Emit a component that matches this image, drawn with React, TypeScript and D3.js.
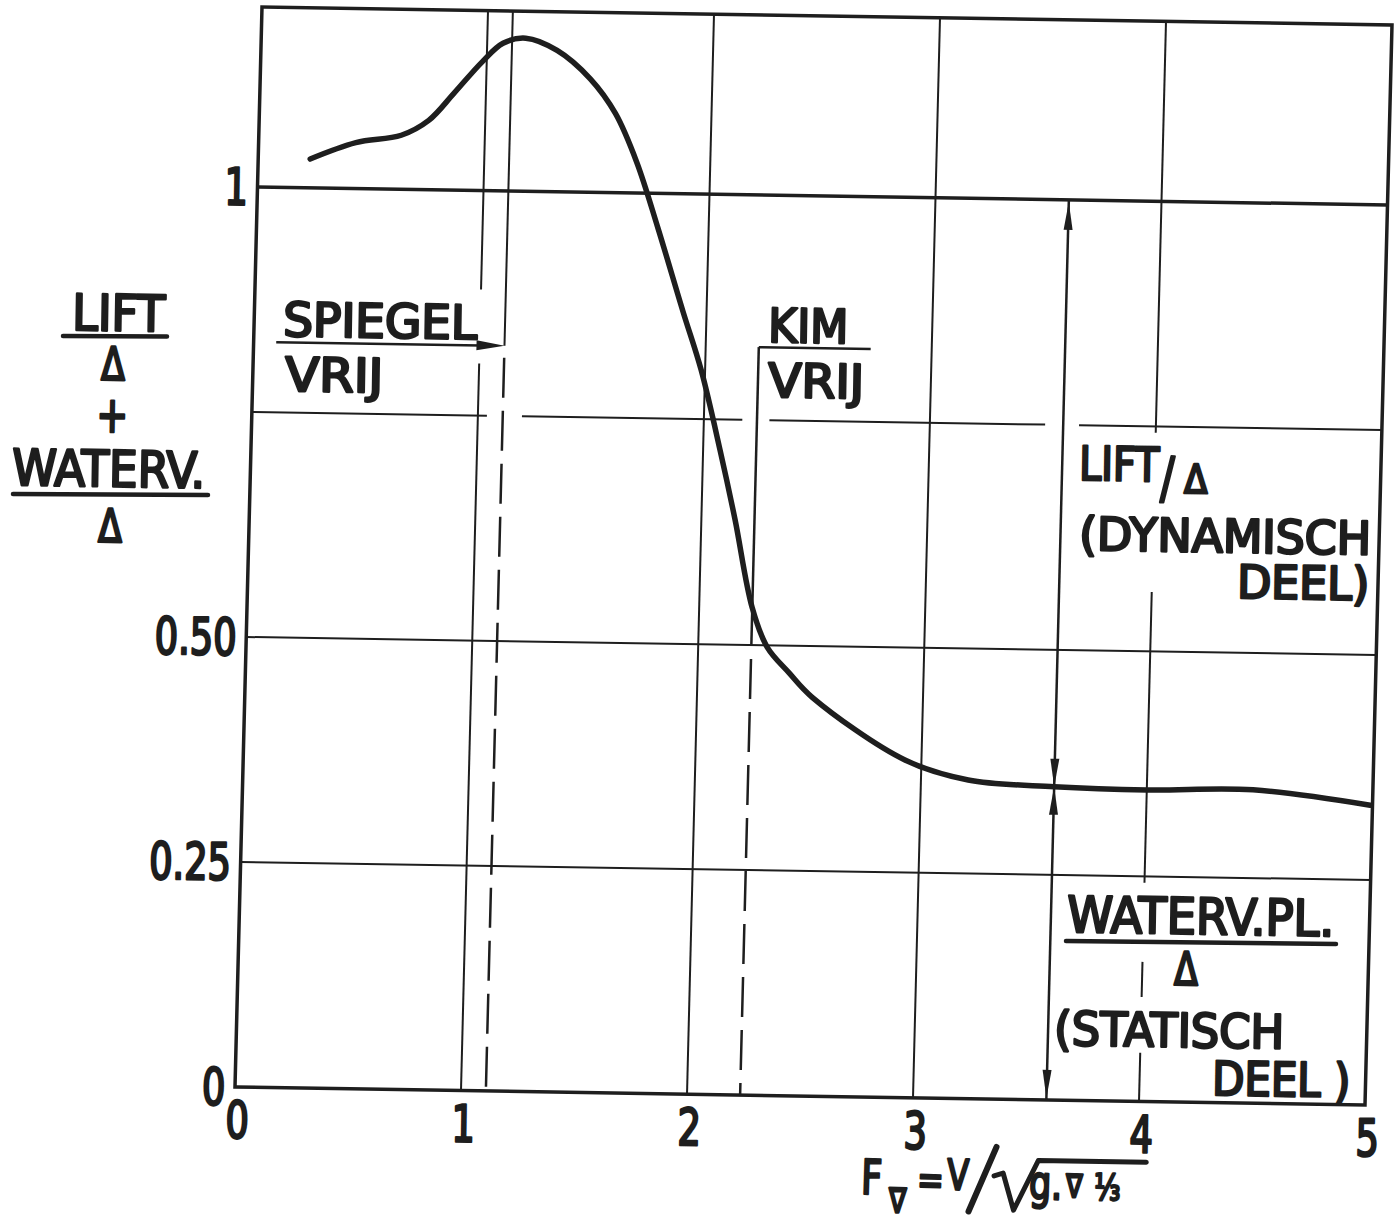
import React from 'react';
import * as d3 from 'd3';

// Lift/displacement + waterplane/displacement versus volumetric Froude number
const froude = [0.23, 0.43, 0.63, 0.75, 0.86, 0.98, 1.07, 1.17, 1.31, 1.46, 1.575, 1.675, 1.775, 1.896, 1.982, 2.075, 2.149, 2.234, 2.305, 2.404, 2.51, 2.927, 3.209, 3.59, 4.0, 4.47, 4.99];
const liftRatio = [1.032, 1.051, 1.060, 1.077, 1.108, 1.143, 1.164, 1.170, 1.157, 1.126, 1.088, 1.034, 0.962, 0.869, 0.805, 0.716, 0.639, 0.542, 0.498, 0.470, 0.443, 0.375, 0.354, 0.348, 0.346, 0.348, 0.333];

const xTicks = [0, 1, 2, 3, 4, 5];
const xTickLabels = ['0', '1', '2', '3', '4', '5'];
const yTicks = [0, 0.25, 0.5, 1];
const yTickLabels = ['0', '0.25', '0.50', '1'];

// transom clears water / chine clears water / split of lift components
const spiegelVrij = 1.11;
const kimVrij = 2.235;
const splitAt = 3.59;
const spiegelArrowY = 0.828;
const kimBarY = 0.831;
const kimBarEnd = 2.73;

// grid lines with the pieces that are left open for annotations
const vGrid: { x: number; pieces: [number, number][] }[] = [
  { x: 1, pieces: [[0, 0.808], [0.89, 1.2]] },
  { x: 2, pieces: [[0, 1.2]] },
  { x: 3, pieces: [[0, 1.2]] },
  { x: 4, pieces: [[0, 0.054], [0.116, 0.155], [0.243, 0.566], [0.743, 1.2]] },
];
const hGrid: { y: number; pieces: [number, number][]; w: number }[] = [
  { y: 0.25, pieces: [[0, 5]], w: 2 },
  { y: 0.5, pieces: [[0, 5]], w: 2 },
  { y: 0.75, pieces: [[0, 1.04], [1.195, 2.17], [2.29, 3.51], [3.66, 5]], w: 2 },
  { y: 1, pieces: [[0, 5]], w: 3.5 },
];

const W = 1130;
const H = 1080;
const M = { a: 1, b: 0.0159, c: -0.025, d: 1, e: 262, f: 7 };

const xs = d3.scaleLinear().domain([0, 5]).range([0, W]);
const ys = d3.scaleLinear().domain([0, 1.2]).range([H, 0]);

const proj = (x: number, y: number): [number, number] => {
  const u = xs(x);
  const w = ys(y);
  return [M.e + M.a * u + M.c * w, M.f + M.b * u + M.d * w];
};

const INK = '#1e1e1e';
const FONT = "'DejaVu Sans Condensed', 'DejaVu Sans', sans-serif";
const TILT = 0.9;

type LabelProps = {
  x: number;
  y: number;
  size?: number;
  len?: number;
  sx?: number;
  anchor?: 'start' | 'middle' | 'end';
  children: React.ReactNode;
};

const Label = ({ x, y, size = 47, len, sx = 0.84, anchor = 'start', children }: LabelProps) => (
  <text
    x={x}
    y={y}
    fontSize={size}
    fontFamily={FONT}
    fontStretch="condensed"
    fill={INK}
    stroke={INK}
    strokeWidth={2.5}
    strokeLinejoin="round"
    textAnchor={anchor}
    textLength={len}
    lengthAdjust={len ? 'spacingAndGlyphs' : undefined}
    transform={
      len
        ? `rotate(${TILT} ${x} ${y})`
        : `rotate(${TILT} ${x} ${y}) translate(${x} ${y}) scale(${sx} 1) translate(${-x} ${-y})`
    }
  >
    {children}
  </text>
);

const arrowHead = (u: number, w: number, dir: 1 | -1, len = 28, half = 4.5) =>
  `M${u},${w}L${u - half},${w + dir * len}L${u + half},${w + dir * len}Z`;

export default function App() {
  const line = d3
    .line<[number, number]>()
    .x((d) => xs(d[0]))
    .y((d) => ys(d[1]))
    .curve(d3.curveCatmullRom.alpha(0.5));
  const curveData = froude.map((f, i) => [f, liftRatio[i]] as [number, number]);
  const splitValue = liftRatio[froude.indexOf(splitAt)];

  return (
    <svg
      width={1397}
      height={1223}
      style={{ position: 'absolute', left: 0, top: 0, background: '#fff' }}
    >
      <rect width={1397} height={1223} fill="#fff" />
      <g transform={`matrix(${M.a},${M.b},${M.c},${M.d},${M.e},${M.f})`} fill="none" stroke={INK}>
        {/* vertical grid */}
        {vGrid.map((g) =>
          g.pieces.map(([a, b], i) => (
            <line key={`v${g.x}-${i}`} x1={xs(g.x)} x2={xs(g.x)} y1={ys(a)} y2={ys(b)} strokeWidth={2} />
          ))
        )}
        {/* horizontal grid */}
        {hGrid.map((g) =>
          g.pieces.map(([a, b], i) => (
            <line key={`h${g.y}-${i}`} x1={xs(a)} x2={xs(b)} y1={ys(g.y)} y2={ys(g.y)} strokeWidth={g.w} />
          ))
        )}
        {/* frame */}
        <rect x={0} y={0} width={W} height={H} strokeWidth={3.5} />

        {/* transom clear: solid then dashed */}
        <line x1={xs(spiegelVrij)} x2={xs(spiegelVrij)} y1={ys(1.2)} y2={ys(spiegelArrowY)} strokeWidth={2} />
        <line
          x1={xs(spiegelVrij)}
          x2={xs(spiegelVrij)}
          y1={ys(spiegelArrowY) + 12}
          y2={ys(0)}
          strokeWidth={2.5}
          strokeDasharray="40 13"
        />
        <line x1={xs(0.1)} x2={xs(spiegelVrij) - 24} y1={ys(spiegelArrowY)} y2={ys(spiegelArrowY)} strokeWidth={2.5} />
        <path d={`M${xs(spiegelVrij)},${ys(spiegelArrowY)}l-28,-5l0,10Z`} fill={INK} stroke="none" />

        {/* chine clear: bar, solid then dashed */}
        <line x1={xs(kimVrij)} x2={xs(kimBarEnd)} y1={ys(kimBarY)} y2={ys(kimBarY)} strokeWidth={2.5} />
        <line x1={xs(kimVrij)} x2={xs(kimVrij)} y1={ys(kimBarY)} y2={ys(0.5)} strokeWidth={2.5} />
        <line
          x1={xs(kimVrij)}
          x2={xs(kimVrij)}
          y1={ys(0.5) + 14}
          y2={ys(0)}
          strokeWidth={2.5}
          strokeDasharray="40 13"
        />

        {/* dimension line splitting dynamic and static parts */}
        <line x1={xs(splitAt)} x2={xs(splitAt)} y1={ys(1)} y2={ys(0)} strokeWidth={2.5} />
        <g fill={INK} stroke="none">
          <path d={arrowHead(xs(splitAt), ys(1) + 2, 1)} />
          <path d={arrowHead(xs(splitAt), ys(splitValue), -1)} />
          <path d={arrowHead(xs(splitAt), ys(splitValue), 1)} />
          <path d={arrowHead(xs(splitAt), ys(0) - 2, -1)} />
        </g>

        {/* main curve */}
        <path d={line(curveData) || ''} strokeWidth={5.5} strokeLinecap="round" strokeLinejoin="round" />
      </g>

      {/* tick labels */}
      {yTicks.map((v, i) => {
        const [px, py] = proj(0, v);
        return (
          <Label key={`yt${v}`} x={px - 10} y={py + 18} size={51} sx={0.8} anchor="end">
            {yTickLabels[i]}
          </Label>
        );
      })}
      {xTicks.map((v, i) => {
        const [px, py] = proj(v, 0);
        return (
          <Label key={`xt${v}`} x={px + 2} y={py + 51} size={51} sx={0.8} anchor="middle">
            {xTickLabels[i]}
          </Label>
        );
      })}

      {/* y axis title */}
      <Label x={72} y={330} size={50} len={93}>LIFT</Label>
      <line x1={63} x2={167} y1={336} y2={336.5} stroke={INK} strokeWidth={4.5} strokeLinecap="round" />
      <Label x={113} y={380} size={46} anchor="middle">Δ</Label>
      <Label x={112} y={432} size={50} anchor="middle">+</Label>
      <Label x={12} y={485} size={50} len={193}>WATERV.</Label>
      <line x1={13} x2={208} y1={494} y2={495} stroke={INK} strokeWidth={4.5} strokeLinecap="round" />
      <Label x={110} y={542} size={46} anchor="middle">Δ</Label>

      {/* annotations */}
      <Label x={283} y={336} size={47} len={194}>SPIEGEL</Label>
      <Label x={285} y={391} size={47} len={98}>VRIJ</Label>
      <Label x={768} y={342} size={47} len={80}>KIM</Label>
      <Label x={768} y={397} size={47} len={96}>VRIJ</Label>

      <Label x={1079} y={480} size={47} len={80}>LIFT</Label>
      <Label x={1160} y={497} size={56}>/</Label>
      <Label x={1184} y={493} size={40} sx={0.95}>Δ</Label>
      <Label x={1079} y={550} size={46} len={292}>(DYNAMISCH</Label>
      <Label x={1237} y={598} size={46} len={132}>DEEL)</Label>

      <Label x={1067} y={932} size={50} len={267}>WATERV.PL.</Label>
      <line x1={1066} x2={1336} y1={941} y2={944} stroke={INK} strokeWidth={4.5} strokeLinecap="round" />
      <Label x={1186} y={985} size={46} anchor="middle">Δ</Label>
      <Label x={1054} y={1045} size={47} len={230}>(STATISCH</Label>
      <Label x={1212} y={1095} size={47} len={138}>DEEL )</Label>

      {/* x axis title */}
      <g transform={`rotate(${TILT} 1000 1180)`}>
        <Label x={861} y={1196} size={48}>F</Label>
        <Label x={889} y={1214} size={34}>∇</Label>
        <Label x={917} y={1195} size={42}>=</Label>
        <Label x={947} y={1190} size={42}>V</Label>
        <path d="M996,1147L969,1212" stroke={INK} strokeWidth={6} strokeLinecap="round" fill="none" />
        <path
          d="M994,1176L1003,1173L1014,1210L1038,1160L1146,1160"
          stroke={INK}
          strokeWidth={5}
          strokeLinejoin="round"
          strokeLinecap="round"
          fill="none"
        />
        <Label x={1029} y={1198} size={46}>g.</Label>
        <Label x={1066} y={1196} size={32}>∇</Label>
        <Label x={1094} y={1198} size={36}>⅓</Label>
      </g>
    </svg>
  );
}
